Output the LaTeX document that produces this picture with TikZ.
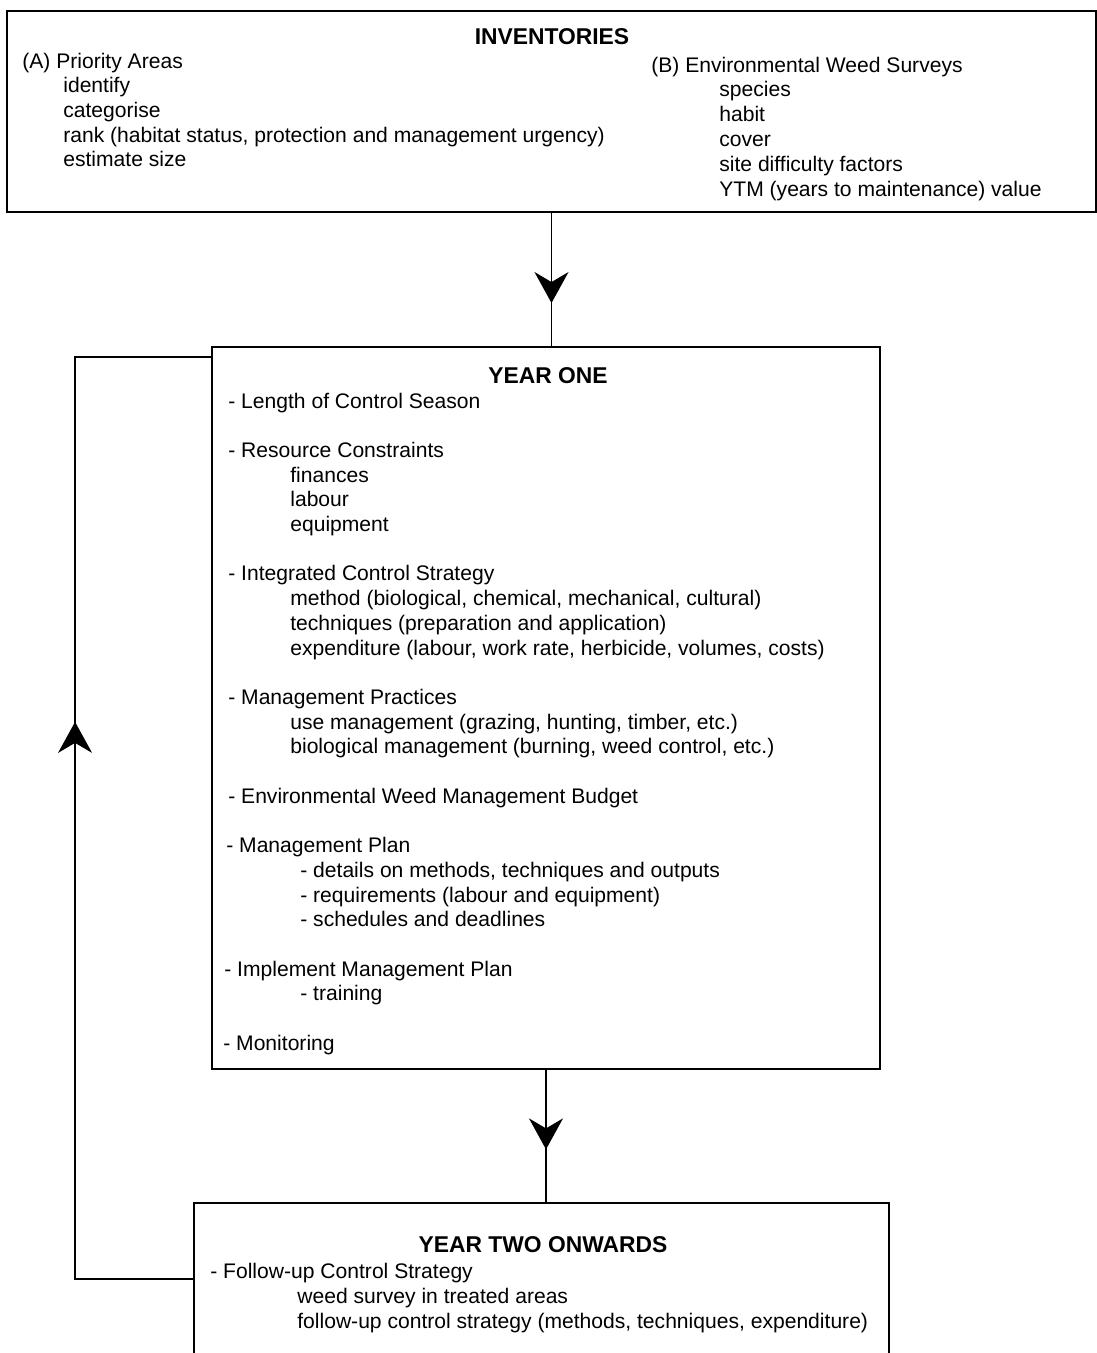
\documentclass[tikz,border=0pt]{standalone}
\usepackage{fontspec}
\setmainfont{Liberation Sans}
\usetikzlibrary{arrows.meta,decorations.markings,calc}
\tikzset{
  box/.style={draw,line width=0.8pt,inner sep=0pt,outer sep=0pt},
  heading/.style={font=\fontsize{13}{15}\selectfont\bfseries,anchor=base,inner sep=0pt},
  entry/.style={font=\fontsize{12}{14}\selectfont,anchor=base west,inner sep=0pt},
  flow/.style={line width=0.8pt,postaction={decorate},
    decoration={markings,mark=at position #1 with {\arrow{Stealth[length=0.62cm,width=0.68cm,inset=0.2cm]}}}}
}

\begin{document}
\begin{tikzpicture}[x=0.02cm,y=-0.02cm]
\useasboundingbox (0,0) rectangle (1097,1353);
\clip (0,0) rectangle (1097,1353);

\node[box,minimum width=21.78cm,minimum height=4.02cm] (inv) at (551.5,111.5) {};
\node[box,minimum width=13.36cm,minimum height=14.44cm] (yone) at (546,708) {};
\node[box,minimum width=13.9cm,minimum height=3.94cm] (ytwo) at (541.5,1301.5) {};

\node[heading] (invtitle) at (552,44) {INVENTORIES};
\foreach \i/\x/\txt in {0/22/{(A) Priority Areas},1/63/identify,2/63/categorise,
    3/63/{rank (habitat status, protection and management urgency)},4/63/{estimate size}}
  \node[entry] (pa-\i) at (\x,68+24.7*\i) {\txt};
\foreach \i/\x/\txt in {0/651/{(B) Environmental Weed Surveys},1/719/species,2/719/habit,
    3/719/cover,4/719/{site difficulty factors},5/719/{YTM (years to maintenance) value}}
  \node[entry] (ws-\i) at (\x,72+24.8*\i) {\txt};

\node[heading] (yonetitle) at (548,383) {YEAR ONE};
\foreach \i/\x/\txt in {0/228/{- Length of Control Season},
    2/228/{- Resource Constraints},3/290/finances,4/290/labour,5/290/equipment,
    7/228/{- Integrated Control Strategy},
    8/290/{method (biological, chemical, mechanical, cultural)},
    9/290/{techniques (preparation and application)},
    10/290/{expenditure (labour, work rate, herbicide, volumes, costs)},
    12/228/{- Management Practices},
    13/290/{use management (grazing, hunting, timber, etc.)},
    14/290/{biological management (burning, weed control, etc.)},
    16/228/{- Environmental Weed Management Budget},
    18/226/{- Management Plan},
    19/300/{- details on methods, techniques and outputs},
    20/300/{- requirements (labour and equipment)},
    21/300/{- schedules and deadlines},
    23/224/{- Implement Management Plan},24/300/{- training},
    26/223/{- Monitoring}}
  \node[entry] (y1-\i) at (\x,408+24.7*\i) {\txt};

\node[heading] (ytwotitle) at (543,1252) {YEAR TWO ONWARDS};
\foreach \i/\x/\txt in {0/210/{- Follow-up Control Strategy},1/297/{weed survey in treated areas},
    2/297/{follow-up control strategy (methods, techniques, expenditure)}}
  \node[entry] (y2-\i) at (\x,1278+25*\i) {\txt};

\draw[flow=0.674] (inv.south) -- (inv.south |- yone.north);
\draw[flow=0.6] (yone.south) -- (yone.south |- ytwo.north);
\draw[flow=0.574] ($(ytwo.north west)+(0,76)$) -| ($(yone.north west)+(-137,10)$)
  -- ($(yone.north west)+(0,10)$);
\end{tikzpicture}
\end{document}
